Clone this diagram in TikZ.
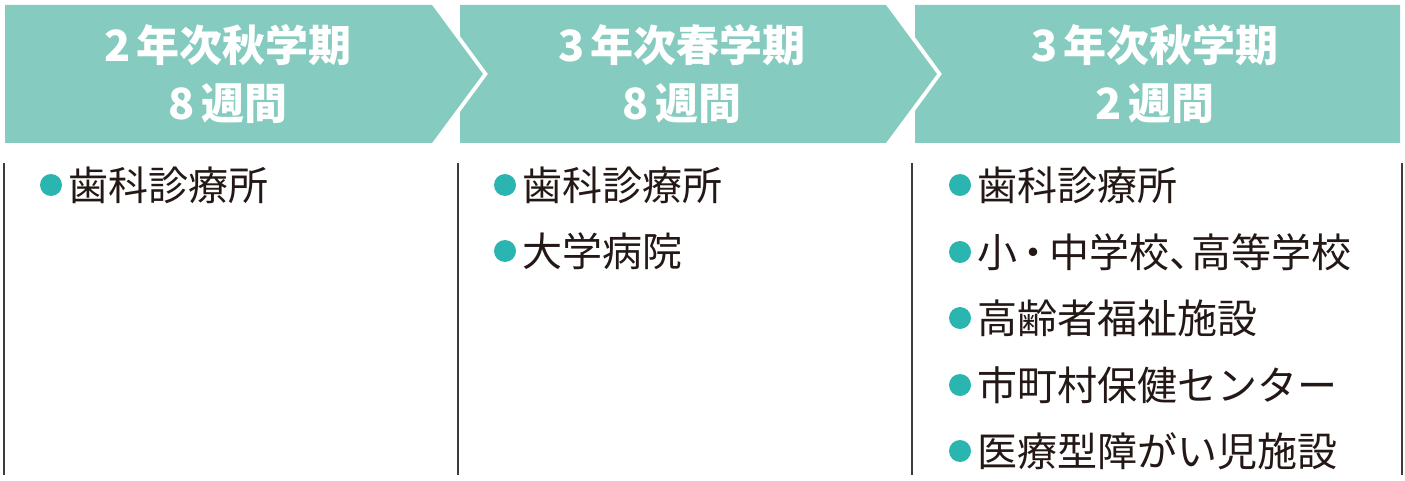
\documentclass[tikz,border=0pt]{standalone}
\usepackage{fontspec}
\setmainfont{Noto Sans CJK JP}
\usetikzlibrary{positioning}
\definecolor{headteal}{HTML}{85CBBF}
\definecolor{dotteal}{HTML}{2BB5B1}
\definecolor{inkdark}{HTML}{231815}
\definecolor{rulegray}{HTML}{3E3A39}
\newcommand{\numgap}{\kern0.14em}

\begin{document}
\begin{tikzpicture}[x=1pt,y=-1pt]
	\tikzset{head/.style={fill=headteal, draw=none},
		headtext/.style={text=white, font=\fontsize{43}{58}\selectfont\bfseries, align=center, inner sep=0pt},
		item/.style={anchor=west, text=inkdark, font=\fontsize{40}{48}\selectfont, inner sep=0pt},
		dot/.style={circle, fill=dotteal, minimum size=22pt, inner sep=0pt},
		rule/.style={draw=rulegray, line width=1.6pt}}
	\useasboundingbox (0,0) rectangle (1405,481);
	%Pfeile oben
	\fill[head] (5,5) -- (432,5) -- (483,74) -- (432,143) -- (5,143) -- cycle;
	\fill[head] (460,5) -- (886,5) -- (937,74) -- (886,143) -- (460,143)
	-- (460,112) -- (488,74) -- (460,36) -- cycle;
	\fill[head] (915,5) -- (1400,5) -- (1400,143) -- (915,143)
	-- (915,111) -- (942,74) -- (915,37) -- cycle;
	\node[headtext] (h1) at (228,74) {2\numgap 年次秋学期\\8\numgap 週間};
	\node[headtext] (h2) at (682,74) {3\numgap 年次春学期\\8\numgap 週間};
	\node[headtext] (h3) at (1155,74) {3\numgap 年次秋学期\\2\numgap 週間};
	
	%Trennlinien
	\draw[rule] (4,163) -- (4,475);
	\draw[rule] (458,163) -- (458,475);
	\draw[rule] (912,163) -- (912,475);
	\draw[rule] (1402,163) -- (1402,475);
	
	%Spalte 1
	\node[dot] (d11) at (51,185) {};
	\node[item, right=6pt of d11] (t11) {歯科診療所};
	
	%Spalte 2
	\node[dot] (d21) at (505,185) {};
	\node[item, right=6pt of d21] (t21) {歯科診療所};
	\node[dot] (d22) at (505,251) {};
	\node[item, right=6pt of d22] (t22) {大学病院};
	
	%Spalte 3
	\node[dot] (d31) at (960,185) {};
	\node[item, right=6pt of d31] (t31) {歯科診療所};
	\node[dot] (d32) at (960,252) {};
	\node[item, right=6pt of d32] (t32) {小\kern-0.1em・\kern-0.1em 中学校{、}\kern-0.45em 高等学校};
	\node[dot] (d33) at (960,318) {};
	\node[item, right=6pt of d33] (t33) {高齢者福祉施設};
	\node[dot] (d34) at (960,385) {};
	\node[item, right=6pt of d34] (t34) {市町村保健センター};
	\node[dot] (d35) at (960,451) {};
	\node[item, right=6pt of d35] (t35) {医療型障がい児施設};
\end{tikzpicture}
\end{document}
